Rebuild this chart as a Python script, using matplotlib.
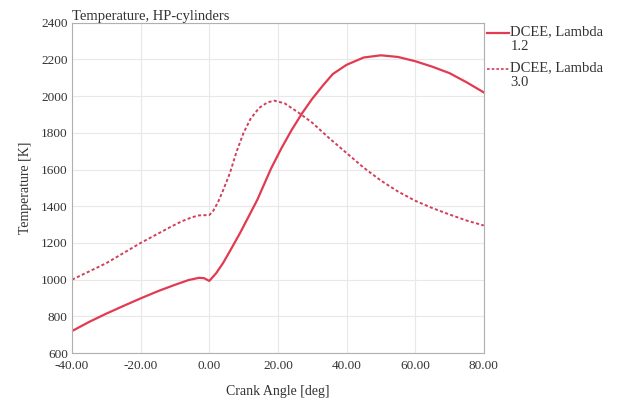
import matplotlib
matplotlib.use("Agg")
import matplotlib.pyplot as plt
from matplotlib.lines import Line2D
from matplotlib.ticker import FormatStrFormatter

# Lambda 1.2 (solid)
angle_12 = [-40, -35, -30, -25, -20, -15, -10, -6, -3, -1.5, 0, 2, 4, 6, 9,
            14, 18, 21, 24, 27, 30, 33, 36, 40, 45, 50, 55, 60, 65, 70, 75, 80]
temp_12 = [720, 770, 815, 857, 898, 937, 972, 998, 1010, 1008, 993, 1035,
           1090, 1155, 1255, 1435, 1605, 1715, 1815, 1905, 1985, 2055, 2120,
           2170, 2210, 2222, 2213, 2190, 2160, 2125, 2075, 2020]

# Lambda 3.0 (dashed)
angle_30 = [-40, -35, -30, -25, -20, -15, -11, -8, -5, -3, 0, 1, 2.5, 4, 6,
            8, 10, 12, 14.5, 17, 19, 22, 26, 30, 35, 40, 45, 50, 55, 60, 65,
            70, 75, 80]
temp_30 = [1000, 1045, 1090, 1145, 1200, 1250, 1290, 1318, 1340, 1350, 1352,
           1370, 1420, 1485, 1580, 1700, 1800, 1875, 1935, 1966, 1975, 1960,
           1910, 1855, 1770, 1690, 1610, 1540, 1480, 1430, 1390, 1355, 1322,
           1295]

labels = ["DCEE, Lambda\n1.2", "DCEE, Lambda\n3.0"]
x_ticks = [-40, -20, 0, 20, 40, 60, 80]
y_ticks = [600, 800, 1000, 1200, 1400, 1600, 1800, 2000, 2200, 2400]

plt.rcParams['font.family'] = ['Liberation Serif', 'DejaVu Serif']
txt = '#333333'
red = '#e23a50'
red2 = '#d0405a'
dash = (0, (1.6, 1.2))

fig = plt.figure(figsize=(6.21, 4.04), dpi=100)
ax = fig.add_axes([0.116, 0.126, 0.663, 0.818])

ax.plot(angle_12, temp_12, color=red, lw=1.6)
ax.plot(angle_30, temp_30, color=red2, lw=1.4, ls=dash)

ax.set_xlim(-40, 80)
ax.set_ylim(600, 2400)
ax.set_xticks(x_ticks)
ax.set_yticks(y_ticks)
ax.xaxis.set_major_formatter(FormatStrFormatter('%.2f'))
ax.tick_params(length=0, labelsize=9.5, colors=txt)
ax.tick_params(axis='x', pad=5)
ax.tick_params(axis='y', pad=3)
ax.grid(True, color='#e8e8e8', lw=0.8)
for s in ax.spines.values():
    s.set_color('#b0b0b0')

ax.set_xlabel("Crank Angle [deg]", fontsize=10, color=txt, labelpad=9)
ax.set_ylabel("Temperature [K]", fontsize=10, color=txt, labelpad=7)
ax.text(0.0, 1.0, "Temperature, HP-cylinders", transform=ax.transAxes,
        ha='left', va='bottom', fontsize=10.5, color=txt)

# legend outside on the right, handle next to the first text line
leg_y = [0.918, 0.829]
styles = [dict(color=red, lw=1.6), dict(color=red2, lw=1.2, ls=dash)]
for y, lab, st in zip(leg_y, labels, styles):
    fig.add_artist(Line2D([0.784, 0.820], [y, y], transform=fig.transFigure,
                          **st))
    fig.text(0.822, y + 0.019, lab, ha='left', va='top', fontsize=10.5,
             color=txt, linespacing=1.15, transform=fig.transFigure)

fig.savefig("out.png", dpi=100)
